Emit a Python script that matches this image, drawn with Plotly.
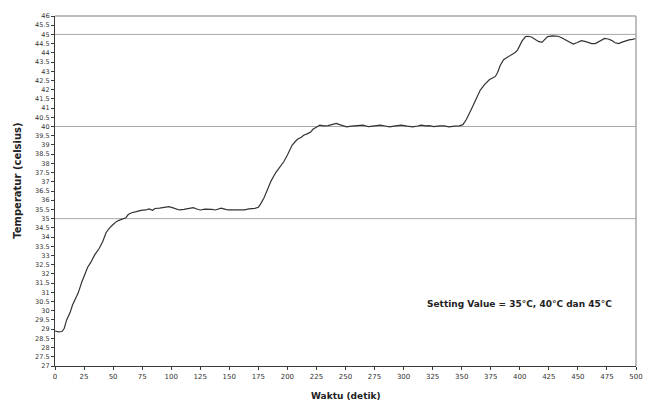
import plotly.graph_objects as go

# Measured temperature response (time in seconds, temperature in degrees Celsius)
waktu = [0, 3, 6, 8, 10, 13, 15, 17, 20, 23, 26, 28, 31, 34, 38, 41, 44, 47, 50, 53,
         56, 59, 61, 63, 66, 70, 74, 78, 81, 84, 86, 90, 94, 98, 101, 104, 107, 111, 115, 119,
         122, 125, 129, 132, 135, 138, 141, 143, 146, 149, 153, 158, 163, 167, 172, 175, 177, 180, 183, 186,
         190, 194, 197, 200, 202, 204, 207, 209, 212, 214, 217, 220, 222, 225, 228, 231, 235, 239, 242, 245,
         248, 251, 255, 260, 265, 270, 275, 280, 284, 288, 293, 298, 303, 308, 312, 315, 319, 322, 326, 331,
         335, 339, 344, 348, 351, 354, 358, 362, 366, 370, 374, 377, 379, 381, 383, 386, 389, 392, 396, 398,
         400, 402, 405, 407, 410, 413, 416, 419, 421, 424, 428, 433, 436, 439, 442, 446, 449, 453, 456, 459,
         462, 465, 469, 473, 476, 479, 482, 485, 488, 491, 494, 497, 500]
suhu = [28.9, 28.85, 28.87, 29.05, 29.5, 29.9, 30.3, 30.55, 30.97, 31.55, 31.98, 32.35, 32.65, 33.02, 33.38, 33.75, 34.25, 34.5, 34.68, 34.85,
        34.93, 35.0, 35.05, 35.22, 35.32, 35.38, 35.45, 35.47, 35.53, 35.45, 35.55, 35.57, 35.6, 35.65, 35.6, 35.53, 35.47, 35.5, 35.53, 35.6,
        35.52, 35.47, 35.52, 35.53, 35.5, 35.47, 35.52, 35.57, 35.52, 35.47, 35.48, 35.47, 35.48, 35.53, 35.56, 35.62, 35.8, 36.15, 36.6, 37.05,
        37.5, 37.85, 38.1, 38.45, 38.7, 38.98, 39.2, 39.32, 39.42, 39.53, 39.6, 39.7, 39.85, 39.97, 40.08, 40.04, 40.05, 40.12, 40.17, 40.1,
        40.02, 39.98, 40.02, 40.05, 40.08, 39.99, 40.02, 40.08, 40.03, 39.98, 40.04, 40.08, 40.02, 39.98, 40.03, 40.08, 40.04, 40.05, 40.0, 40.04,
        40.03, 39.98, 40.02, 40.04, 40.1, 40.38, 40.9, 41.45, 41.98, 42.3, 42.55, 42.65, 42.72, 42.95, 43.3, 43.63, 43.75, 43.85, 44.02, 44.15,
        44.4, 44.65, 44.88, 44.9, 44.86, 44.74, 44.62, 44.57, 44.7, 44.88, 44.92, 44.9, 44.82, 44.72, 44.58, 44.48, 44.55, 44.66, 44.62, 44.55,
        44.5, 44.5, 44.65, 44.78, 44.75, 44.68, 44.55, 44.5, 44.58, 44.66, 44.7, 44.73, 44.78]

# Set-point temperatures
setting_values = [35, 40, 45]

# Axis ticks
x_ticks = [0, 25, 50, 75, 100, 125, 150, 175, 200, 225, 250, 275, 300, 325, 350, 375, 400, 425, 450, 475, 500]
y_ticks = [27, 27.5, 28, 28.5, 29, 29.5, 30, 30.5, 31, 31.5, 32, 32.5, 33, 33.5, 34, 34.5, 35, 35.5, 36, 36.5,
           37, 37.5, 38, 38.5, 39, 39.5, 40, 40.5, 41, 41.5, 42, 42.5, 43, 43.5, 44, 44.5, 45, 45.5, 46]
y_labels = [f"{v:g}" for v in y_ticks]
x_labels = [str(v) for v in x_ticks]

FONT = "DejaVu Sans, Verdana, sans-serif"
AXIS_COLOR = "#3a3a3a"
FRAME_COLOR = "#a8a8a8"

fig = go.Figure()
fig.add_trace(go.Scatter(
    x=waktu, y=suhu, mode="lines",
    line=dict(color="#333333", width=1.2),
    showlegend=False, hoverinfo="x+y",
))

shapes = []
for sv in setting_values:
    shapes.append(dict(type="line", xref="paper", x0=0, x1=1, yref="y", y0=sv, y1=sv,
                       line=dict(color=FRAME_COLOR, width=1), layer="below"))
# Top and right frame lines
shapes.append(dict(type="line", xref="paper", yref="paper", x0=0, x1=1, y0=1, y1=1,
                   line=dict(color=FRAME_COLOR, width=1.5)))
shapes.append(dict(type="line", xref="paper", yref="paper", x0=1, x1=1, y0=0, y1=1,
                   line=dict(color=FRAME_COLOR, width=1.5)))

fig.update_layout(
    width=655, height=401,
    margin=dict(l=55, r=13, t=16, b=35),
    paper_bgcolor="white", plot_bgcolor="white",
    font=dict(family=FONT, color="#222222"),
    shapes=shapes,
    xaxis=dict(
        range=[0, 500], tickmode="array", tickvals=x_ticks, ticktext=x_labels,
        ticks="outside", ticklen=3, tickwidth=1, tickcolor=AXIS_COLOR,
        showline=True, linecolor=AXIS_COLOR, linewidth=1.2,
        showgrid=False, zeroline=False,
        tickfont=dict(size=7, family=FONT, color="#333333"),
    ),
    yaxis=dict(
        range=[27, 46], tickmode="array", tickvals=y_ticks, ticktext=y_labels,
        ticks="outside", ticklen=3, tickwidth=1, tickcolor=AXIS_COLOR,
        showline=True, linecolor=AXIS_COLOR, linewidth=1.2,
        showgrid=False, zeroline=False,
        tickfont=dict(size=6.5, family=FONT, color="#333333"),
    ),
    annotations=[
        dict(text="<b>Temperatur (celsius)</b>", xref="paper", yref="paper",
             x=-0.065, y=0.53, xanchor="center", yanchor="middle", textangle=-90,
             showarrow=False, font=dict(size=10, family=FONT, color="#222222")),
        dict(text="<b>Waktu (detik)</b>", xref="paper", yref="paper",
             x=0.5, y=-0.085, xanchor="center", yanchor="middle",
             showarrow=False, font=dict(size=9, family=FONT, color="#222222")),
        dict(text="<b>Setting Value = 35°C, 40°C dan 45°C</b>", xref="x", yref="y",
             x=400, y=30.35, xanchor="center", yanchor="middle",
             showarrow=False, font=dict(size=9, family=FONT, color="#222222")),
    ],
)

fig.write_html("out.html")
